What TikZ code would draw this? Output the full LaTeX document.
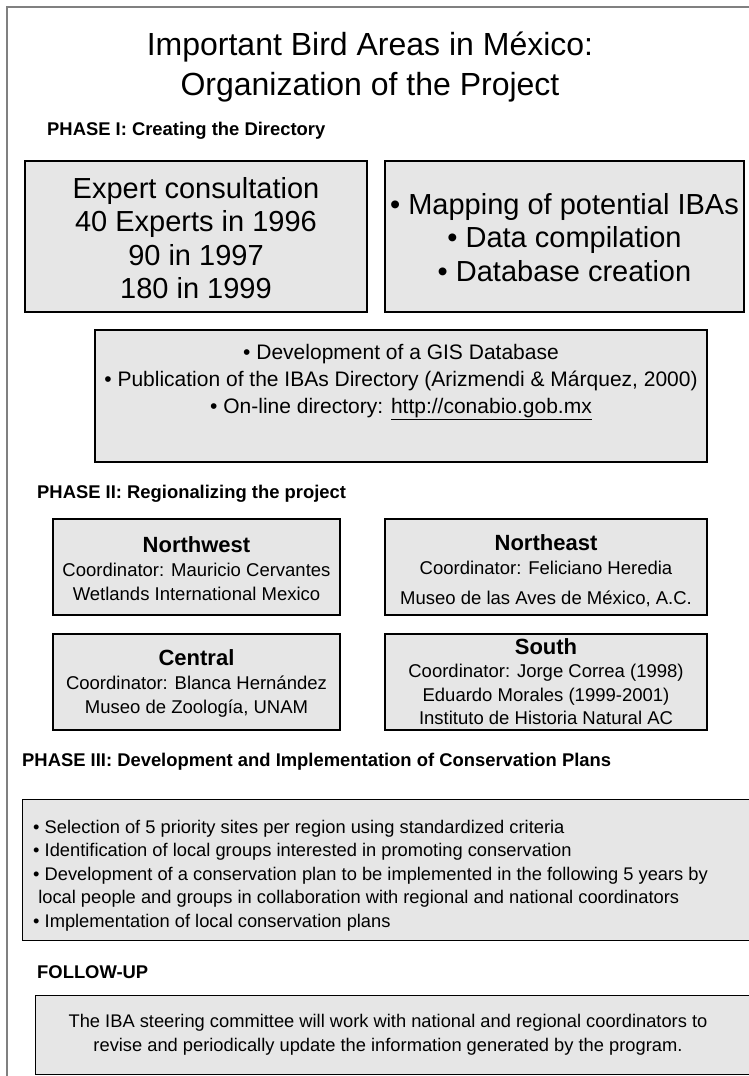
\documentclass[tikz,border=0pt]{standalone}
\usepackage{fontspec}
\setmainfont{Liberation Sans}
\definecolor{boxfill}{RGB}{230,230,230}
\definecolor{framegray}{RGB}{128,128,128}
\newcommand{\regtitlefont}{\fontsize{22}{24}\selectfont\bfseries}
\begin{document}
\begin{tikzpicture}[x=1pt,y=-1pt,
  box/.style={draw=black,line width=1.2pt,fill=boxfill,inner sep=0pt,rectangle},
  phaselabel/.style={anchor=west,inner sep=0pt,font=\fontsize{18.4}{20}\selectfont\bfseries},
  bigtxt/.style={align=center,inner sep=0pt,font=\fontsize{29}{33.5}\selectfont},
  midtxt/.style={align=center,inner sep=0pt,font=\fontsize{21}{27}\selectfont},
  smalltxt/.style={align=center,inner sep=0pt,font=\fontsize{18.5}{24}\selectfont},
]
\useasboundingbox (0,0) rectangle (748,1076);
\fill[white] (0,0) rectangle (748,1076);
% frame
\coordinate (fTL) at (7,7);
\coordinate (fTR) at (760,7);
\coordinate (fBL) at (7,1090);
\draw[framegray,line width=2pt] (fTR) -- (fTL) -- (fBL);

% title
\node[align=center,inner sep=0pt,font=\fontsize{32}{40}\selectfont] (title) at (370,67)
  {Important Bird Areas in México:\\Organization of the Project};

% Phase I
\node[phaselabel] (p1) at (47,131) {PHASE I: Creating the Directory};
\node[box,minimum width=342pt,minimum height=151pt] (expert) at (196,236.5) {};
\node[bigtxt] (expertT) at ([yshift=-1.5pt]expert.center) {Expert consultation\\40 Experts in 1996\\90 in 1997\\180 in 1999};
\node[box,minimum width=359pt,minimum height=151pt] (mapping) at (564.5,236.5) {};
\node[bigtxt] (mappingT) at ([yshift=-1pt]mapping.center) {• Mapping of potential IBAs\\• Data compilation\\• Database creation};
\node[box,minimum width=612pt,minimum height=132pt] (gis) at (401,396) {};
\node[midtxt,anchor=north] (gisT) at ([yshift=-15pt]gis.north)
  {• Development of a GIS Database\\• Publication of the IBAs Directory (Arizmendi \& Márquez, 2000)\\• On-line directory: \underline{http://conabio.gob.mx}};

% Phase II
\node[phaselabel] (p2) at (37,494) {PHASE II: Regionalizing the project};
\node[box,minimum width=287pt,minimum height=96pt] (nw) at (196.5,567) {};
\node[smalltxt] (nwT) at ([yshift=-2pt]nw.center) {{\regtitlefont Northwest}\\Coordinator: Mauricio Cervantes\\Wetlands International Mexico};
\node[box,minimum width=322pt,minimum height=96pt] (ne) at (546,567) {};
\node[smalltxt] (neT) at ([yshift=-4pt]ne.center) {{\regtitlefont Northeast}\\Coordinator: Feliciano Heredia\\[6pt]Museo de las Aves de México, A.C.};
\node[box,minimum width=287pt,minimum height=96pt] (central) at (196.5,682) {};
\node[smalltxt] (centralT) at ([yshift=-1pt]central.center) {{\regtitlefont Central}\\Coordinator: Blanca Hernández\\Museo de Zoología, UNAM};
\node[box,minimum width=322pt,minimum height=96pt] (south) at (546,682) {};
\node[smalltxt,font=\fontsize{18.5}{23.5}\selectfont] (southT) at ([yshift=0.5pt]south.center) {{\regtitlefont South}\\Coordinator: Jorge Correa (1998)\\Eduardo Morales (1999-2001)\\Instituto de Historia Natural AC};

% Phase III
\node[phaselabel] (p3) at (22,762) {PHASE III: Development and Implementation of Conservation Plans};
\node[box,minimum width=760pt,minimum height=141pt,anchor=north west] (cons) at (22,799) {};
\node[align=left,inner sep=0pt,anchor=north west,font=\fontsize{18.3}{23.5}\selectfont] (consT) at (33,820)
  {• Selection of 5 priority sites per region using standardized criteria\\
   • Identification of local groups interested in promoting conservation\\
   • Development of a conservation plan to be implemented in the following 5 years by\\
   \ local people and groups in collaboration with regional and national coordinators\\
   • Implementation of local conservation plans};

% Follow-up
\node[phaselabel] (p4) at (37,972) {FOLLOW-UP};
\node[box,minimum width=760pt,minimum height=79pt,anchor=north west] (follow) at (35,995) {};
\node[smalltxt,font=\fontsize{18.3}{24}\selectfont] (followT) at (388,1035)
  {The IBA steering committee will work with national and regional coordinators to\\revise and periodically update the information generated by the program.};
\end{tikzpicture}
\end{document}
